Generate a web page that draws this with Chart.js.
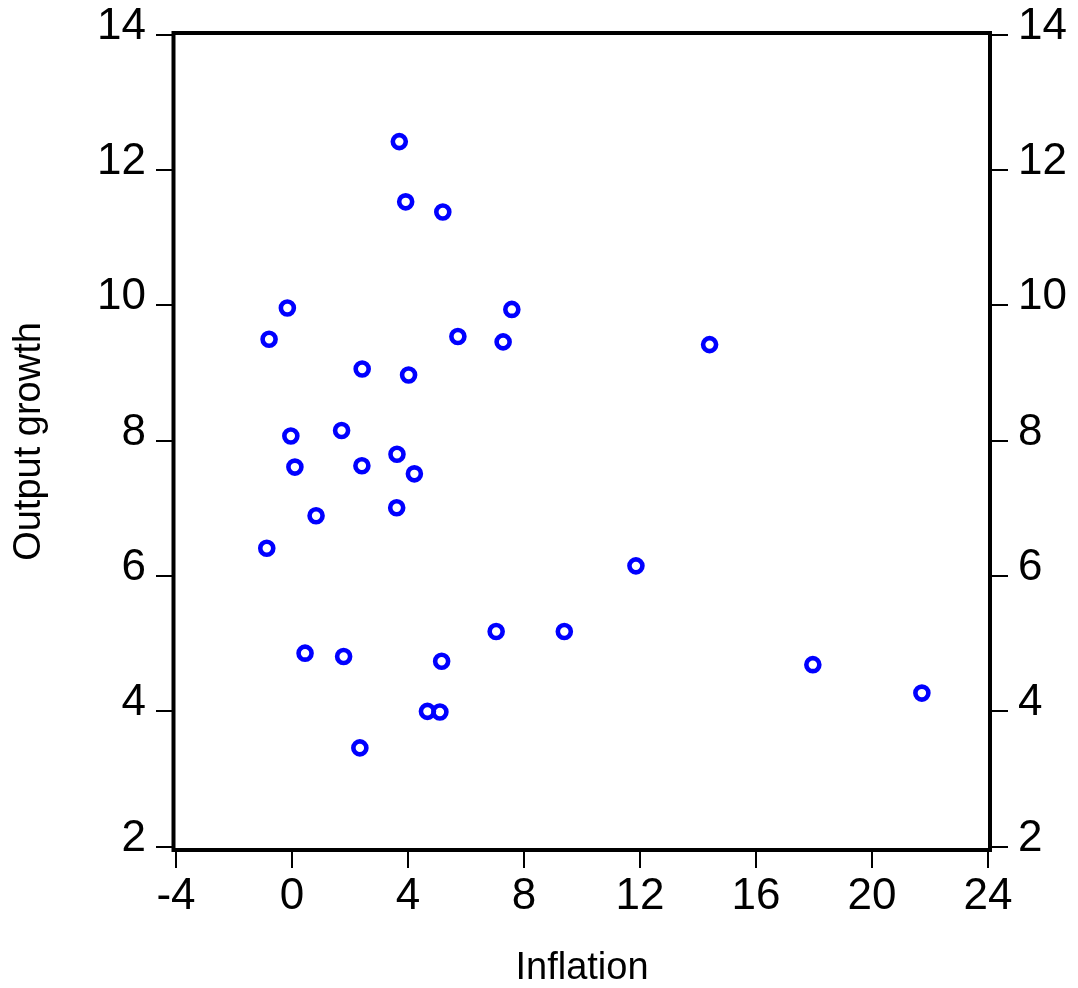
<!DOCTYPE html>
<html>
<head>
<meta charset="utf-8">
<title>Output growth vs Inflation</title>
<script src="https://cdn.jsdelivr.net/npm/chart.js@4/dist/chart.umd.min.js"></script>
<style>
  html, body { margin: 0; padding: 0; background: #fff; }
  #wrap { width: 1078px; height: 988px; }
</style>
</head>
<body>
<div id="wrap"><canvas id="scatter"></canvas></div>
<script>
// Données
var inflation = [3.70, 3.92, 5.20, -0.16, -0.79, 7.58, 5.72, 7.28, 14.40, 2.42, 4.02,
  -0.04, 1.71, 3.62, 0.10, 2.41, 4.22, 3.61, 0.83, -0.87, 11.86, 0.45, 1.78,
  7.04, 9.39, 5.16, 4.67, 5.10, 17.96, 21.72, 2.34];
var growth = [12.42, 11.53, 11.38, 9.96, 9.50, 9.94, 9.54, 9.46, 9.42, 9.06, 8.97,
  8.07, 8.15, 7.80, 7.61, 7.63, 7.51, 7.01, 6.89, 6.41, 6.15, 4.86, 4.81,
  5.18, 5.18, 4.74, 4.00, 3.99, 4.69, 4.27, 3.46];
var xTicks = [-4, 0, 4, 8, 12, 16, 20, 24];
var yTicks = [2, 4, 6, 8, 10, 12, 14];

var points = inflation.map(function(v, i) { return {x: v, y: growth[i]}; });

var tickFont = {family: '"Liberation Sans", Arial, sans-serif', size: 44, lineHeight: 1};
var titleFont = {family: '"Liberation Sans", Arial, sans-serif', size: 38, lineHeight: 1};

// Cadre noir autour de la zone du graphique
var frame = {
  id: 'frame',
  afterDatasetsDraw: function(chart) {
    var a = chart.chartArea, c = chart.ctx;
    c.save();
    c.strokeStyle = '#000';
    c.lineWidth = 4;
    c.strokeRect(a.left - 0.5, a.top, a.right - a.left + 0.5, a.bottom - a.top);
    c.restore();
  }
};

function setTicks(list) {
  return function(axis) { axis.ticks = list.map(function(v) { return {value: v}; }); };
}

function yAxis(pos, w, showTitle) {
  return {
    type: 'linear',
    position: pos,
    min: 1.951,
    max: 14.025,
    afterBuildTicks: setTicks(yTicks),
    afterFit: function(s) { s.width = w; },
    grid: {drawOnChartArea: false, color: '#000', lineWidth: 2, tickLength: 18},
    border: {display: false},
    ticks: {color: '#000', font: tickFont, padding: 10, labelOffset: -8},
    title: {display: showTitle, text: 'Output growth', color: '#000', font: titleFont,
            padding: {top: 11, bottom: 0}}
  };
}

new Chart(document.getElementById('scatter').getContext('2d'), {
  type: 'scatter',
  data: {
    datasets: [{
      label: 'Output growth',
      data: points,
      borderColor: '#0000ff',
      backgroundColor: 'rgba(0,0,0,0)',
      pointRadius: 6.5,
      pointBorderWidth: 4.6,
      pointStyle: 'circle'
    }]
  },
  options: {
    responsive: true,
    maintainAspectRatio: false,
    animation: false,
    events: [],
    layout: {padding: {top: 33, left: 0, right: 0, bottom: 0}},
    plugins: {legend: {display: false}, tooltip: {enabled: false}},
    scales: {
      x: {
        type: 'linear',
        position: 'bottom',
        min: -4.069,
        max: 24.069,
        afterBuildTicks: setTicks(xTicks),
        afterFit: function(s) { s.height = 138; },
        grid: {drawOnChartArea: false, color: '#000', lineWidth: 2, tickLength: 18},
        border: {display: false},
        ticks: {color: '#000', font: tickFont, padding: 6.5, maxRotation: 0, autoSkip: false},
        title: {display: true, text: 'Inflation', color: '#000', font: titleFont,
                padding: {top: 0, bottom: 0}}
      },
      y: yAxis('left', 174, true),
      y2: yAxis('right', 88, false)
    }
  },
  plugins: [frame]
});
</script>
</body>
</html>
